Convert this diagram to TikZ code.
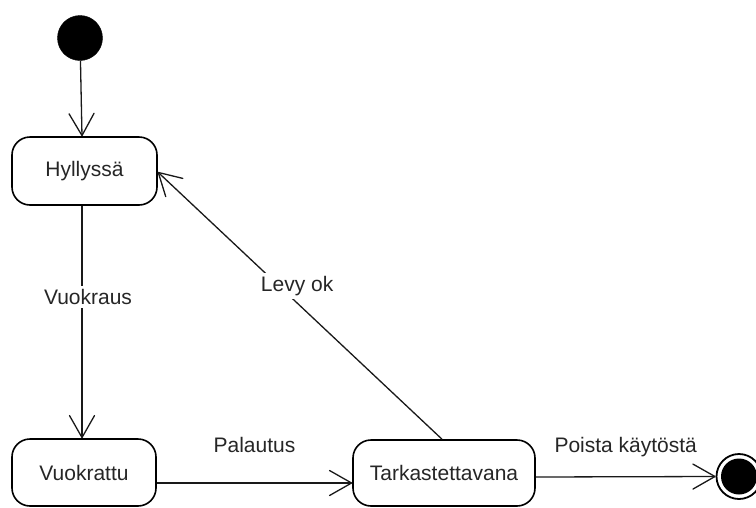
\documentclass[tikz,border=0pt]{standalone}
\usepackage{fontspec}
\setmainfont{Liberation Sans}
\usetikzlibrary{arrows.meta,calc}

\tikzset{
  state/.style={draw=black, line width=1.6pt, rounded corners=18pt, inner sep=0pt,
    font=\fontsize{21}{25}\selectfont, text=black!85},
  trans/.style={line width=1.3pt, draw=black!90,
    -{Straight Barb[length=22pt,width=25pt,round]}},
  lbl/.style={font=\fontsize{21}{25}\selectfont, text=black!85, inner sep=3pt},
  lblbg/.style={lbl, fill=white},
  initstate/.style={circle, fill=black, draw=black, minimum size=45pt, inner sep=0pt},
  finalring/.style={circle, draw=black, line width=1.8pt, minimum size=45pt, inner sep=0pt},
  finaldot/.style={circle, fill=black, minimum size=36pt, inner sep=0pt}
}

\begin{document}
\begin{tikzpicture}[x=1pt, y=-1pt]
  \useasboundingbox[fill=white] (0,0) rectangle (756,507);

  % states
  \node[initstate] (init) at (80,38) {};
  \node[state, minimum width=145pt, minimum height=68pt] (hyl) at (84.5,171) {Hyllyssä};
  \node[state, minimum width=144pt, minimum height=67pt] (vuok) at (84,472.5) {Vuokrattu};
  \node[state, minimum width=182pt, minimum height=66pt] (tark) at (444,473) {Tarkastettavana};
  \node[finalring] (fin) at (739,476.5) {};
  \node[finaldot] (findot) at (fin) {};

  % transitions
  \draw[trans] (init) -- ($(hyl.north)+(-2.5,0)$);
  \draw[trans] ($(hyl.south)+(-2.5,0)$) --
    node[lblbg, pos=0.393, xshift=6pt] (lvuok) {Vuokraus}
    ($(vuok.north)+(-2,0)$);
  \draw[trans] ($(vuok.east)+(0,10.5)$) --
    node[lbl, midway, anchor=base, yshift=31pt] (lpal) {Palautus}
    ($(tark.west)+(0,10)$);
  \draw[trans] ($(tark.north)+(-2,0)$) --
    node[lblbg, pos=0.573, xshift=18pt] (llevy) {Levy ok}
    ($(hyl.east)+(0,1)$);
  \draw[trans] ($(tark.east)+(0,4)$) --
    node[lbl, midway, anchor=base, yshift=24pt] (lpoista) {Poista käytöstä}
    (fin.west);
\end{tikzpicture}
\end{document}
